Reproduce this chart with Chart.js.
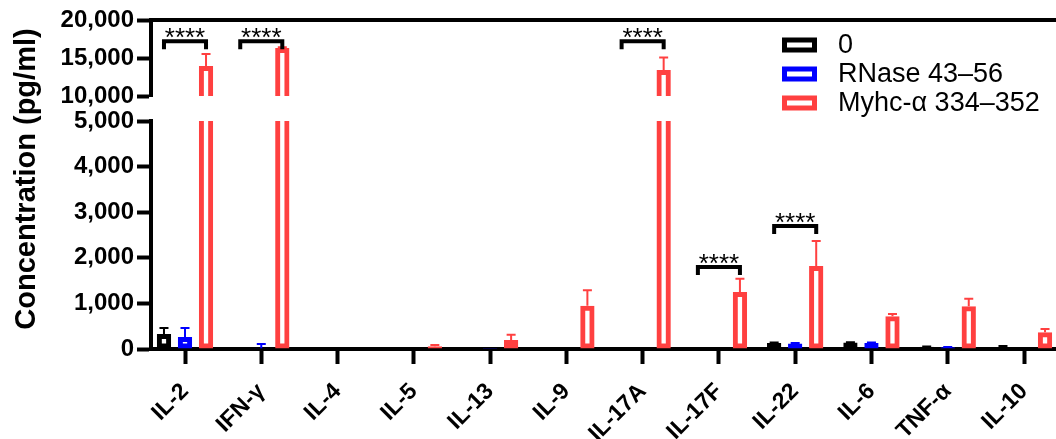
<!DOCTYPE html>
<html><head><meta charset="utf-8">
<script src="https://cdn.jsdelivr.net/npm/chart.js@4"></script>
<style>
html,body{margin:0;padding:0;background:#fff;overflow:hidden}
#wrap{position:relative;width:1056px;height:439px;overflow:hidden;background:#fff}
canvas{position:absolute;left:0;top:0}
</style></head><body>
<div id="wrap"><canvas id="lo" width="1062" height="439"></canvas><canvas id="hi" width="1062" height="439"></canvas></div>
<script>
const categories = ['IL-2','IFN-γ','IL-4','IL-5','IL-13','IL-9','IL-17A','IL-17F','IL-22','IL-6','TNF-α','IL-10'];
const seriesNames = ['0','RNase 43–56','Myhc-α 334–352'];
const seriesColors = ['#000000','#0000ff','#ff4040'];
const zeroValues   = [330, 10, 0, 0, 20, 0, 0, 0, 130, 140, 50, 10];
const zeroErrors   = [130, 0, 0, 0, 0, 0, 0, 0, 10, 10, 5, 55];
const rnaseValues  = [265, 15, 0, 0, 20, 0, 10, 0, 120, 130, 40, 0];
const rnaseErrors  = [195, 95, 0, 0, 0, 0, 0, 0, 10, 10, 5, 0];
const myhcValues   = [13950, 16300, 0, 60, 200, 950, 13420, 1250, 1820, 720, 940, 370];
const myhcErrors   = [1580, 100, 0, 30, 110, 340, 1650, 290, 550, 50, 160, 70];
const lowTicks = [0, 1000, 2000, 3000, 4000, 5000];
const highTicks = [10000, 15000, 20000];
const sigCategories = ['IL-2', 'IFN-γ', 'IL-17A', 'IL-17F', 'IL-22'];
const sigLevels = [17200, 17200, 17200, 1800, 2700];
const sigLabel = '****';
const yTitle = 'Concentration (pg/ml)';

const FONT = '"Liberation Sans", Arial, Helvetica, sans-serif';
const seriesValues = [zeroValues, rnaseValues, myhcValues];
const seriesErrors = [zeroErrors, rnaseErrors, myhcErrors];

function makeDatasets() {
  return seriesNames.map((n, i) => ({
    label: n,
    data: seriesValues[i],
    errors: seriesErrors[i],
    borderColor: seriesColors[i],
    backgroundColor: 'rgba(255,255,255,0)',
    borderWidth: 5,
    borderSkipped: false,
    clip: 0,
    categoryPercentage: 0.827,
    barPercentage: 0.68
  }));
}

// leave a small gap between the y axis and the first category
function xGap(s) {
  s._startValue = -0.4458;
  s._valueRange = 11.944;
}

const errorBars = {
  id: 'errorBars',
  afterDatasetsDraw(chart) {
    const {ctx, chartArea: a} = chart;
    const y = chart.scales.y;
    ctx.save();
    ctx.beginPath();
    ctx.rect(a.left, a.top - 3, a.right - a.left, a.bottom - a.top + 3);
    ctx.clip();
    chart.data.datasets.forEach((ds, di) => {
      const meta = chart.getDatasetMeta(di);
      ds.errors.forEach((e, i) => {
        if (!e) return;
        const bar = meta.data[i];
        const v = ds.data[i];
        const y0 = y.getPixelForValue(v), y1 = y.getPixelForValue(v + e);
        ctx.strokeStyle = ds.borderColor;
        ctx.lineWidth = 2;
        ctx.beginPath();
        ctx.moveTo(bar.x, y0); ctx.lineTo(bar.x, y1);
        ctx.moveTo(bar.x - 4.5, y1); ctx.lineTo(bar.x + 4.5, y1);
        ctx.stroke();
      });
    });
    ctx.restore();
  }
};

const brackets = {
  id: 'brackets',
  afterDatasetsDraw(chart) {
    const {ctx} = chart;
    const y = chart.scales.y;
    ctx.save();
    sigCategories.forEach((c, k) => {
      const i = categories.indexOf(c);
      const v = sigLevels[k];
      if (v < y.min || v > y.max) return;
      const x0 = chart.getDatasetMeta(0).data[i].x;
      const x1 = chart.getDatasetMeta(2).data[i].x;
      const yy = y.getPixelForValue(v);
      ctx.strokeStyle = '#000';
      ctx.lineWidth = 4;
      ctx.lineJoin = 'miter';
      ctx.beginPath();
      ctx.moveTo(x0, yy + 8); ctx.lineTo(x0, yy); ctx.lineTo(x1, yy); ctx.lineTo(x1, yy + 8);
      ctx.stroke();
      ctx.fillStyle = '#000';
      ctx.font = '26px ' + FONT;
      ctx.textAlign = 'center';
      ctx.textBaseline = 'alphabetic';
      ctx.fillText(sigLabel, (x0 + x1) / 2, yy + 5);
    });
    ctx.restore();
  }
};

const decor = {
  id: 'decor',
  afterDraw(chart) {
    const {ctx} = chart;
    ctx.save();
    ctx.translate(27, 179);
    ctx.rotate(-Math.PI / 2);
    ctx.fillStyle = '#000';
    ctx.font = 'bold 29px ' + FONT;
    ctx.textAlign = 'center';
    ctx.textBaseline = 'middle';
    ctx.fillText(yTitle, 0, 0);
    ctx.restore();
    ctx.save();
    const lx = 782, ly0 = 45, dy = 29;
    chart.data.datasets.forEach((ds, i) => {
      const cy = ly0 + i * dy;
      ctx.strokeStyle = ds.borderColor;
      ctx.lineWidth = 5;
      ctx.strokeRect(lx + 2.5, cy - 7.5 + 2.5, 30, 10);
      ctx.fillStyle = '#000';
      ctx.font = '27px ' + FONT;
      ctx.textAlign = 'left';
      ctx.textBaseline = 'middle';
      ctx.fillText(ds.label, 838, cy + 1);
    });
    ctx.restore();
  }
};

const yTickFont = {family: FONT, size: 24, weight: 'bold'};

function yScale(min, max, ticksArr) {
  return {
    min, max,
    afterBuildTicks: s => { s.ticks = ticksArr.map(v => ({value: v})); },
    grid: {drawOnChartArea: false, drawTicks: true, tickLength: 14, tickWidth: 4, tickColor: '#000'},
    border: {display: true, width: 4, color: '#000'},
    ticks: {padding: 3, color: '#000', font: yTickFont},
    afterFit: s => { s.width = 151; }
  };
}

new Chart(document.getElementById('lo'), {
  type: 'bar',
  data: {labels: categories, datasets: makeDatasets()},
  options: {
    responsive: false, animation: false, locale: 'en-US',
    layout: {padding: {top: 121, left: 0, right: 0, bottom: 0}},
    plugins: {legend: {display: false}, tooltip: {enabled: false}},
    scales: {
      x: {
        z: 1, offset: true,
        afterBuildTicks: xGap,
        grid: {offset: false, display: true, drawOnChartArea: false, drawTicks: true, tickLength: 15, tickWidth: 4, tickColor: '#000'},
        border: {display: true, width: 4, color: '#000'},
        ticks: {autoSkip: false, maxRotation: 45, minRotation: 45, padding: 14, color: '#000', font: {family: FONT, size: 23, weight: 'bold'}},
        afterFit: s => { s.height = 90; }
      },
      y: yScale(0, 5000, lowTicks)
    }
  },
  plugins: [errorBars, brackets]
});

new Chart(document.getElementById('hi'), {
  type: 'bar',
  data: {labels: categories, datasets: makeDatasets()},
  options: {
    responsive: false, animation: false, locale: 'en-US',
    layout: {padding: {top: 20, left: 0, right: 0, bottom: 343}},
    plugins: {legend: {display: false}, tooltip: {enabled: false}},
    scales: {
      x: {
        position: 'top', offset: true,
        afterBuildTicks: xGap,
        grid: {display: false, drawTicks: false},
        border: {display: true, width: 4, color: '#000'},
        ticks: {display: false},
        afterFit: s => { s.height = 0; }
      },
      y: yScale(10000, 20000, highTicks)
    }
  },
  plugins: [errorBars, brackets, decor]
});
</script>
</body></html>
